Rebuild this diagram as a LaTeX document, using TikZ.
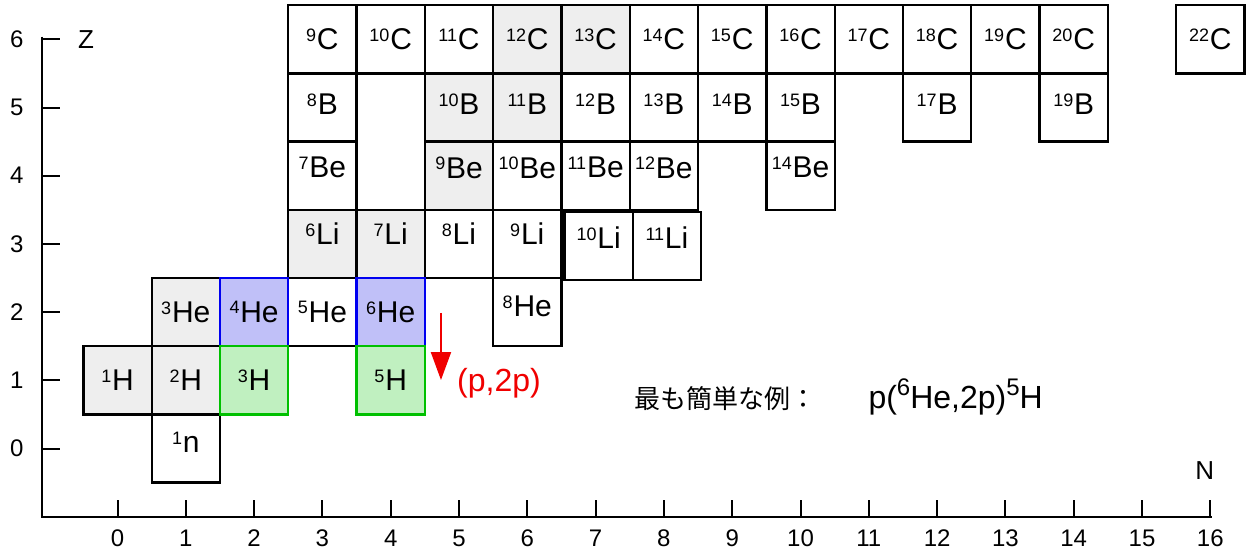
\documentclass[tikz,border=0pt]{standalone}
\usepackage{fontspec}
\setmainfont{Liberation Sans}
\newfontfamily\jfont{Noto Sans CJK JP}
\usetikzlibrary{arrows.meta}
\definecolor{grayfill}{HTML}{EEEEEE}
\definecolor{bluefill}{HTML}{C0C0F8}
\definecolor{blueline}{HTML}{0000F0}
\definecolor{greenfill}{HTML}{C0F0C0}
\definecolor{greenline}{HTML}{00C000}
\definecolor{arrred}{HTML}{F00000}
\newcommand\iso[2]{\raisebox{4.2pt}{\fontsize{9}{10}\selectfont #1}\kern0.4pt#2}
\newcommand\eqsup[1]{\raisebox{6.5pt}{\fontsize{12}{13}\selectfont #1}}
\tikzset{
  cellbox/.style={draw=black, line width=1.15pt, minimum width=34.15pt, minimum height=34.1pt, inner sep=0pt, outer sep=0pt},
  celltext/.style={font=\fontsize{15}{17}\selectfont, inner sep=0pt},
  axisline/.style={line width=1pt, black},
  ticklab/.style={font=\fontsize{12}{14}\selectfont, inner sep=0pt},
  axlab/.style={font=\fontsize{13}{15}\selectfont, inner sep=0pt},
  reactarrow/.style={arrred, line width=1pt, -{Triangle[width=10pt,length=14pt]}},
}
% name, N, Z, fill, mass, element, yshift
\newcommand\nucl[7]{%
  \node[cellbox,fill=#4] (#1) at (#2,#3) {};
  \node[celltext,yshift=#7] (#1t) at (#1.center) {\iso{#5}{#6}};}
\newcommand\nuclc[8]{%
  \node[cellbox,fill=#4,draw=#8] (#1) at (#2,#3) {};
  \node[celltext,yshift=#7] (#1t) at (#1.center) {\iso{#5}{#6}};}
\begin{document}
\begin{tikzpicture}[x=34.15pt,y=34.1pt]
\useasboundingbox (-1.7204,-1.5176) rectangle (16.581,6.5762);
% axes
\coordinate (Ytop) at (-1.105,6.04);
\coordinate (O) at (-1.105,-1);
\coordinate (Xend) at (16.02,-1);
\draw[axisline] (Ytop) -- (O) -- (Xend);
\foreach \i in {0,...,16}{
  \draw[axisline] (\i,-1) -- (\i,-0.75);
  \node[ticklab] (xl\i) at (\i,-1.317) {\i};
}
\foreach \j in {0,...,6}{
  \draw[axisline] (-1.105,\j) -- (-0.84,\j);
  \node[ticklab] (yl\j) at (-1.476,\j) {\j};
}
\node[axlab] (zlab) at (-0.46,6.0) {Z};
\node[axlab] (nlab) at (15.92,-0.33) {N};
% Z = 6
\nucl{c9}{3}{6}{white}{9}{C}{0pt}
\nucl{c10}{4}{6}{white}{10}{C}{0pt}
\nucl{c11}{5}{6}{white}{11}{C}{0pt}
\nucl{c12}{6}{6}{grayfill}{12}{C}{0pt}
\nucl{c13}{7}{6}{grayfill}{13}{C}{0pt}
\nucl{c14}{8}{6}{white}{14}{C}{0pt}
\nucl{c15}{9}{6}{white}{15}{C}{0pt}
\nucl{c16}{10}{6}{white}{16}{C}{0pt}
\nucl{c17}{11}{6}{white}{17}{C}{0pt}
\nucl{c18}{12}{6}{white}{18}{C}{0pt}
\nucl{c19}{13}{6}{white}{19}{C}{0pt}
\nucl{c20}{14}{6}{white}{20}{C}{0pt}
\nucl{c22}{16}{6}{white}{22}{C}{0pt}
% Z = 5
\nucl{b8}{3}{5}{white}{8}{B}{1.5pt}
\nucl{b10}{5}{5}{grayfill}{10}{B}{1.5pt}
\nucl{b11}{6}{5}{grayfill}{11}{B}{1.5pt}
\nucl{b12}{7}{5}{white}{12}{B}{1.5pt}
\nucl{b13}{8}{5}{white}{13}{B}{1.5pt}
\nucl{b14}{9}{5}{white}{14}{B}{1.5pt}
\nucl{b15}{10}{5}{white}{15}{B}{1.5pt}
\nucl{b17}{12}{5}{white}{17}{B}{1.5pt}
\nucl{b19}{14}{5}{white}{19}{B}{1.5pt}
% Z = 4
\nucl{be7}{3}{4}{white}{7}{Be}{4pt}
\nucl{be9}{5}{4}{grayfill}{9}{Be}{4pt}
\nucl{be10}{6}{4}{white}{10}{Be}{4pt}
\nucl{be11}{7}{4}{white}{11}{Be}{4pt}
\nucl{be12}{8}{4}{white}{12}{Be}{4pt}
\nucl{be14}{10}{4}{white}{14}{Be}{4pt}
% Z = 3
\nucl{li6}{3}{3}{grayfill}{6}{Li}{5pt}
\nucl{li7}{4}{3}{grayfill}{7}{Li}{5pt}
\nucl{li8}{5}{3}{white}{8}{Li}{5pt}
\nucl{li9}{6}{3}{white}{9}{Li}{5pt}
\nucl{li10}{7.044}{2.97}{white}{10}{Li}{4pt}
\nucl{li11}{8.044}{2.97}{white}{11}{Li}{4pt}
% Z = 2
\nucl{he3}{1}{2}{grayfill}{3}{He}{0pt}
\nucl{he5}{3}{2}{white}{5}{He}{0pt}
\nucl{he8}{6}{2}{white}{8}{He}{3pt}
% Z = 1, 0
\nucl{h1}{0}{1}{grayfill}{1}{H}{0pt}
\nucl{h2}{1}{1}{grayfill}{2}{H}{0pt}
\nucl{n1}{1}{0}{white}{1}{n}{3pt}
% coloured
\nuclc{he4}{2}{2}{bluefill}{4}{He}{0pt}{blueline}
\nuclc{he6}{4}{2}{bluefill}{6}{He}{0pt}{blueline}
\nuclc{h3}{2}{1}{greenfill}{3}{H}{0pt}{greenline}
\nuclc{h5}{4}{1}{greenfill}{5}{H}{0pt}{greenline}
% reaction arrow
\coordinate (arrS) at (4.736,1.987);
\coordinate (arrE) at (4.736,1.004);
\draw[reactarrow] (arrS) -- (arrE);
\node[font=\fontsize{16}{18}\selectfont, text=arrred, inner sep=0pt] (pp) at (5.586,0.96) {(p,2p)};
% example text
\node[anchor=base west, inner sep=0pt, font=\fontsize{13}{15}\selectfont] (jtxt) at (7.562,0.585) {\jfont 最も簡単な例：};
\node[anchor=base west, inner sep=0pt, font=\fontsize{16}{18}\selectfont] (eq) at (10.99,0.585)
  {p(\eqsup{6}He,2p)\eqsup{5}H};
\end{tikzpicture}
\end{document}
